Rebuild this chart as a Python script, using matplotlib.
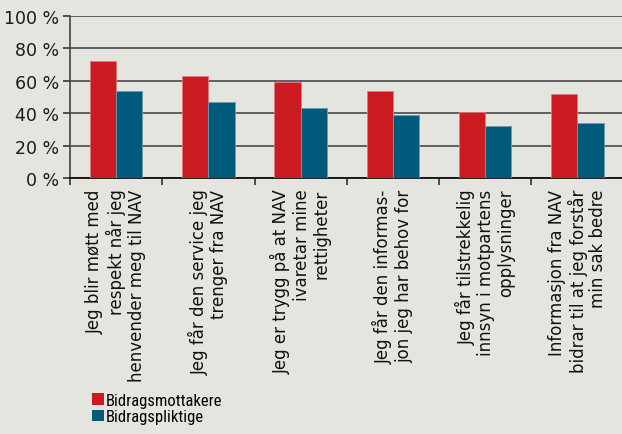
import matplotlib
matplotlib.use("Agg")
import matplotlib.pyplot as plt
import numpy as np
from matplotlib.patches import Patch
from matplotlib import font_manager

categories = [
    "Jeg blir møtt med\nrespekt når jeg\nhenvender meg til NAV",
    "Jeg får den service jeg\ntrenger fra NAV",
    "Jeg er trygg på at NAV\nivaretar mine\nrettigheter",
    "Jeg får den informas-\njon jeg har behov for",
    "Jeg får tilstrekkelig\ninnsyn i motpartens\nopplysninger",
    "Informasjon fra NAV\nbidrar til at jeg forstår\nmin sak bedre",
]
mottakere = [72, 63, 59, 54, 41, 52]
pliktige = [54, 47, 43, 39, 32, 34]
series_names = ["Bidragsmottakere", "Bidragspliktige"]
yticks = [0, 20, 40, 60, 80, 100]
ytick_labels = ["0 %", "20 %", "40 %", "60 %", "80 %", "100 %"]

BG = "#e5e5e0"
RED = "#cc1a21"
BLUE = "#005a7c"

available = set(f.name for f in font_manager.fontManager.ttflist)
narrow = next((n for n in ["Roboto Condensed", "PT Sans Narrow", "Barlow Semi Condensed",
                           "Asap Condensed", "Archivo Narrow"] if n in available), "DejaVu Sans")

fig = plt.figure(figsize=(6.22, 4.35), dpi=100, facecolor=BG)
ax = fig.add_axes([0.1125, 0.5885, 0.89, 0.3725], facecolor=BG)

x = np.arange(len(categories))
w = 0.285
ax.bar(x - w / 2, mottakere, w, color=RED, edgecolor="#e07a7e", linewidth=0.6, zorder=3)
ax.bar(x + w / 2, pliktige, w, color=BLUE, edgecolor="#6a9db2", linewidth=0.6, zorder=3)

ax.set_xlim(-0.5, len(categories) - 0.5)
ax.set_ylim(0, 100)
ax.set_yticks(yticks)
ax.set_yticklabels(ytick_labels, fontsize=12.5, color="#1a1a1a")
ax.yaxis.grid(True, color="#4a4a4a", linewidth=1.2, zorder=1)
ax.set_axisbelow(True)

ax.set_xticks(np.arange(len(categories) + 1) - 0.5)
ax.set_xticklabels([])
ax.tick_params(axis="x", length=5, width=1.2, color="#333333", direction="out")
ax.tick_params(axis="y", length=5, width=1.2, color="#333333", pad=3)

for i, lab in enumerate(categories):
    ax.text(i, -6.5, lab, rotation=90, ha="center", va="top", multialignment="right",
            fontsize=12, color="#111111", transform=ax.transData, linespacing=1.12)

for s in ["top", "right"]:
    ax.spines[s].set_visible(False)
ax.spines["left"].set_color("#444444")
ax.spines["left"].set_linewidth(1.2)
ax.spines["bottom"].set_color("#111111")
ax.spines["bottom"].set_linewidth(1.3)

handles = [Patch(facecolor=RED), Patch(facecolor=BLUE)]
fig.legend(handles, series_names, loc="upper left", bbox_to_anchor=(0.148, 0.095),
           frameon=False, handlelength=0.7, handleheight=0.7, handletextpad=0.15,
           labelspacing=0.1, borderaxespad=0, borderpad=0,
           prop={"family": [narrow, "DejaVu Sans"], "size": 12})

fig.savefig("out.png", dpi=100, facecolor=BG)
